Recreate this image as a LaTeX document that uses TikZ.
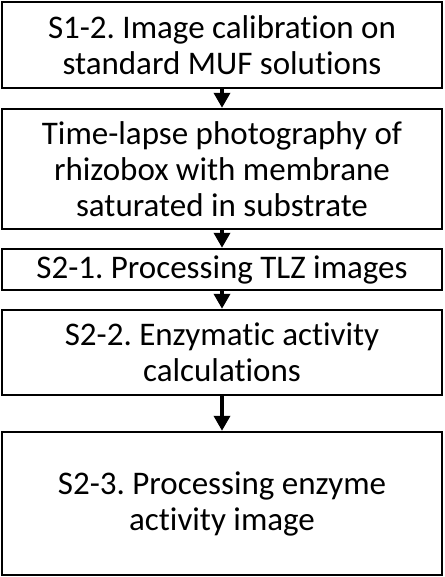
\documentclass[tikz,border=0pt]{standalone}
\usepackage{fontspec}
\setmainfont{Carlito}[Ligatures={NoCommon,NoRequired}]
\usetikzlibrary{arrows.meta}
\frenchspacing
\begin{document}
\begin{tikzpicture}[x=1pt,y=-1pt,
  stepbox/.style={draw=black, line width=2.4pt, align=center, inner sep=0pt,
    minimum width=440pt, font=\fontsize{33}{36}\selectfont},
  flow/.style={-{Triangle[length=15pt,width=16pt]}, line width=3.5pt}]
\useasboundingbox (0,0) rectangle (444,577);
\node[stepbox, minimum height=86pt] (b1) at (222,45) {S1-2. Image calibration on\\standard MUF solutions};
\node[stepbox, minimum height=120pt] (b2) at (222,169) {Time-lapse photography of\\rhizobox with membrane\\saturated in substrate};
\node[stepbox, minimum height=41pt] (b3) at (222,269.5) {S2-1. Processing TLZ images};
\node[stepbox, minimum height=85pt] (b4) at (222,352.5) {S2-2. Enzymatic activity\\calculations};
\node[stepbox, minimum height=143pt] (b5) at (222,503.5) {S2-3. Processing enzyme\\activity image};
\draw[flow] (b1.south) -- (b2.north);
\draw[flow] (b2.south) -- (b3.north);
\draw[flow] (b3.south) -- (b4.north);
\draw[flow] (b4.south) -- (b5.north);
\end{tikzpicture}
\end{document}
